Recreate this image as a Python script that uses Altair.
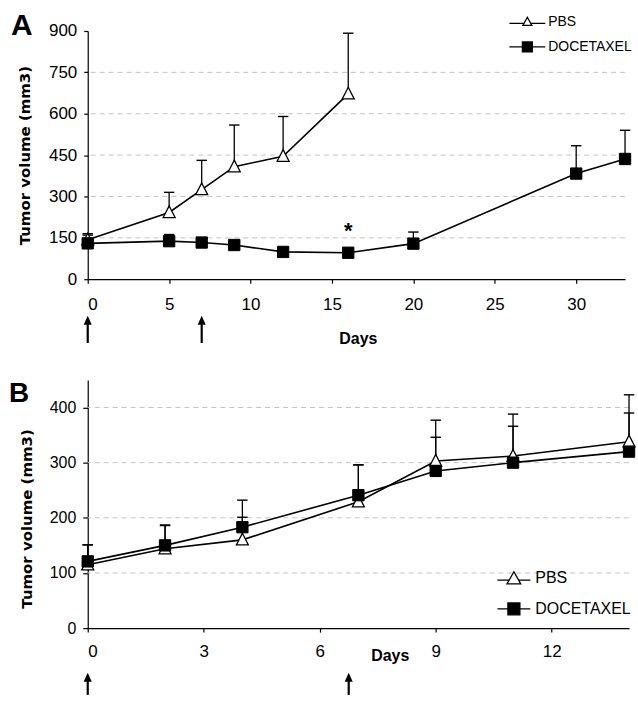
import altair as alt
import pandas as pd

# ---------------- data ----------------
series = ["PBS", "DOCETAXEL"]

# Panel A
a_pbs_days = [0, 5, 7, 9, 12, 16]
a_pbs_mean = [143, 242, 325, 408, 446, 672]
a_pbs_upper = [165, 315, 431, 559, 590, 892]
a_doc_days = [0, 5, 7, 9, 12, 16, 20, 30, 33]
a_doc_mean = [130, 138, 133, 124, 99, 96, 129, 383, 436]
a_doc_upper = [160, 162, 148, 138, 112, 110, 171, 484, 540]
a_xticks = [0, 5, 10, 15, 20, 25, 30]
a_yticks = [0, 150, 300, 450, 600, 750, 900]
a_grid = [150, 300, 450, 600, 750]
a_arrow_days = [0, 7]
a_star_day = [16]
a_star_val = [96]

# Panel B
b_days = [0, 2, 4, 7, 9, 11, 14]
b_pbs_mean = [115, 144, 160, 229, 303, 312, 338]
b_pbs_upper = [151, 186, 201, 296, 377, 388, 423]
b_doc_mean = [121, 150, 183, 241, 285, 300, 320]
b_doc_upper = [151, 187, 232, 296, 346, 366, 390]
b_xticks = [0, 3, 6, 9, 12]
b_yticks = [0, 100, 200, 300, 400]
b_grid = [100, 200, 300, 400]
b_arrow_days = [0, 6.75]

panel_letters = ["A", "B"]

TRI = "M0,-1.1L1,0.85L-1,0.85Z"
HEAD = "M0,-1L0.9,1L-0.9,1Z"
CAP = "M-1,0L1,0"


def build_panel(p):
    df = pd.DataFrame({
        "day": p["pbs_days"] + p["doc_days"],
        "vol": p["pbs_mean"] + p["doc_mean"],
        "upper": p["pbs_up"] + p["doc_up"],
        "series": ["PBS"] * len(p["pbs_days"]) + ["DOCETAXEL"] * len(p["doc_days"]),
    })

    xaxis = alt.Axis(values=p["xticks"], grid=False, labelFont="Liberation Sans",
                     labelFontSize=p["xlab_fs"], labelPadding=p["xlab_pad"], tickSize=4, labelAngle=0,
                     titleFont="Liberation Sans", titleFontWeight="bold", titleFontSize=16,
                     titleX=p["xtitle_x"], titleY=p["xtitle_y"], titleBaseline="top", titleAlign="center")
    yaxis = alt.Axis(values=p["yticks"], grid=False, labelFont="Liberation Sans",
                     labelFontSize=p["ylab_fs"], labelPadding=7, tickSize=p["ytick"],
                     titleFont="DejaVu Sans", titleFontWeight="bold", titleFontSize=15,
                     titleX=p["ytitle_x"], titleY=p["ytitle_y"], titleAngle=-90,
                     titleAlign="center", titleBaseline="bottom")

    def X(f):
        return alt.X(f + ":Q", title="Days",
                     scale=alt.Scale(domain=p["xdom"], nice=False, zero=False), axis=xaxis)

    def Y(f):
        return alt.Y(f + ":Q", title="Tumor volume (mm3)",
                     scale=alt.Scale(domain=p["ydom"], nice=False), axis=yaxis)

    grid = alt.Chart(pd.DataFrame({"g": p["grid"]})).mark_rule(
        color="#c4c4c4", strokeDash=[5, 4], strokeWidth=1).encode(y=Y("g"))

    err = alt.Chart(df).mark_rule(color="black", strokeWidth=1.3).encode(
        x=X("day"), y=Y("vol"), y2="upper:Q")
    caps = alt.Chart(df).mark_point(shape=CAP, size=110, stroke="black", strokeWidth=1.4,
                                    filled=False, opacity=1).encode(x=X("day"), y=Y("upper"))
    line = alt.Chart(df).mark_line(color="black", strokeWidth=1.6).encode(
        x=X("day"), y=Y("vol"), detail="series:N")
    pts_pbs = alt.Chart(df).transform_filter(alt.datum.series == "PBS").mark_point(
        shape=TRI, size=p["msize"], filled=True, fill="white", stroke="black",
        strokeWidth=1.3, opacity=1).encode(x=X("day"), y=Y("vol"))
    pts_doc = alt.Chart(df).transform_filter(alt.datum.series == "DOCETAXEL").mark_point(
        shape="square", size=p["msize"] - 15, filled=True, fill="black", stroke="black",
        strokeWidth=1, opacity=1).encode(x=X("day"), y=Y("vol"))

    # legend (drawn as keyed symbols + labels)
    legend_layers = []
    fills = ["white", "black"]
    for i, name in enumerate(series):
        ldf = pd.DataFrame({"s": [name]})
        legend_layers.append(alt.Chart(ldf).mark_point(
            shape=p["lpaths"][i], size=p["lsize"], filled=True, fill=fills[i], stroke="black",
            strokeWidth=1.3, opacity=1).encode(x=alt.value(p["lsym_x"]), y=alt.value(p["lrows"][i])))
        legend_layers.append(alt.Chart(ldf).mark_text(
            font="Liberation Sans", fontSize=p["lfs"], align="left", baseline="middle",
            color="black").encode(text="s:N", x=alt.value(p["ltxt_x"]), y=alt.value(p["lrows"][i] + 0.5)))

    arr_df = pd.DataFrame({"day": p["arrow_days"]})
    arr_shaft = alt.Chart(arr_df).mark_rule(color="black", strokeWidth=2.2).encode(
        x=X("day"), y=alt.value(p["arr_head"]), y2=alt.value(p["arr_bottom"]))
    arr_head = alt.Chart(arr_df).mark_point(shape=HEAD, size=81, filled=True, color="black",
                                            opacity=1).encode(x=X("day"), y=alt.value(p["arr_head"]))

    letter = alt.Chart(pd.DataFrame({"t": [p["letter"]]})).mark_text(
        font="Liberation Sans", fontWeight="bold", fontSize=p["letter_fs"], align="left",
        baseline="alphabetic", color="black").encode(
        text="t:N", x=alt.value(p["letter_x"]), y=alt.value(p["letter_y"]))

    layers = [grid, err, caps, line, pts_pbs, pts_doc] + legend_layers + [arr_shaft, arr_head, letter]
    if p.get("star"):
        star = alt.Chart(pd.DataFrame({"day": a_star_day, "vol": a_star_val, "t": ["*"]})).mark_text(
            font="Liberation Sans", fontWeight="bold", fontSize=22, dy=-22, baseline="middle",
            color="black").encode(x=X("day"), y=Y("vol"), text="t:N")
        layers.append(star)
    return alt.layer(*layers).properties(width=p["w"], height=p["h"])


pA = dict(pbs_days=a_pbs_days, pbs_mean=a_pbs_mean, pbs_up=a_pbs_upper,
          doc_days=a_doc_days, doc_mean=a_doc_mean, doc_up=a_doc_upper,
          xticks=a_xticks, yticks=a_yticks, grid=a_grid, xdom=[0, 33], ydom=[0, 900],
          xlab_fs=17, xlab_pad=13, ylab_fs=17, ytick=4,
          xtitle_x=271, xtitle_y=51.8, ytitle_x=-55, ytitle_y=124.5,
          msize=144,
          lsize=81, lfs=14, lsym_x=441, ltxt_x=462, lrows=[-9.5, 16],
          lpaths=["M0,-0.95L1,0.85L-1,0.85ZM-4,0.4L-0.75,0.4M0.75,0.4L4,0.4",
                  "M-1.1,-1.1L1.1,-1.1L1.1,1.1L-1.1,1.1ZM-4,0L-1.1,0M1.1,0L4,0"],
          arrow_days=a_arrow_days, arr_head=290.2, arr_bottom=313,
          letter=panel_letters[0], letter_fs=30, letter_x=-77, letter_y=4, star=True,
          w=539, h=249)

pB = dict(pbs_days=b_days, pbs_mean=b_pbs_mean, pbs_up=b_pbs_upper,
          doc_days=b_days, doc_mean=b_doc_mean, doc_up=b_doc_upper,
          xticks=b_xticks, yticks=b_yticks, grid=b_grid, xdom=[0, 14], ydom=[0, 450],
          xlab_fs=17, xlab_pad=11.3, ylab_fs=16, ytick=5,
          xtitle_x=303, xtitle_y=19, ytitle_x=-53, ytitle_y=139,
          msize=144,
          lsize=144, lfs=16, lsym_x=427.5, ltxt_x=449, lrows=[198.7, 229.7],
          lpaths=["M0,-1.05L1.15,1L-1.15,1ZM-2.75,0.35L-0.8,0.35M0.8,0.35L2.75,0.35",
                  "M-1,-1L1,-1L1,1L-1,1ZM-2.75,0L-1,0M1,0L2.75,0"],
          arrow_days=b_arrow_days, arr_head=298.2, arr_bottom=316,
          letter=panel_letters[1], letter_fs=28, letter_x=-79, letter_y=21.7, star=False,
          w=543, h=249)

chart = alt.vconcat(build_panel(pA), build_panel(pB), spacing=32).resolve_scale(
    x="independent", y="independent"
).properties(
    padding={"left": 9, "top": 10, "right": 0, "bottom": 0}, background="white"
).configure_view(stroke=None).configure_axis(
    domainColor="black", tickColor="black", labelColor="black", titleColor="black",
    grid=False, domainWidth=1.2, tickWidth=1.2
)

chart.save("out.html", embed_options={"renderer": "svg", "actions": False})
